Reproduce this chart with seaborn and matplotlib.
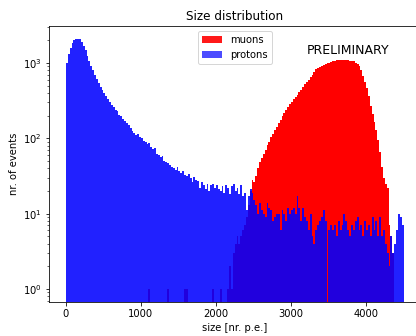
import numpy as np
import pandas as pd
import matplotlib
matplotlib.use("Agg")
import matplotlib.pyplot as plt
from matplotlib.patches import Patch
import seaborn as sns

# ---- data (bin width 25 p.e., bins from 0 to 4500) ----
bin_width = 25
bin_lo, bin_hi = 0, 4500

proton_counts = [
    1000, 1300, 1600, 1850, 2020, 2080, 2100, 2060, 1900, 1700,
    1480, 1250, 1050, 900, 800, 700, 610, 540, 480, 440,
    400, 360, 330, 300, 278, 262, 240, 228, 205, 198,
    180, 168, 158, 150, 135, 126, 118, 110, 114, 105,
    100, 92, 90, 84, 86, 76, 72, 75, 62, 60,
    56, 58, 50, 48, 47, 44, 42, 40, 38, 42,
    37, 35, 37, 33, 32, 34, 30, 26, 31, 28,
    27, 22, 26, 24, 21, 25, 20, 24, 25, 22,
    24, 21, 20, 23, 19, 24, 22, 18, 23, 25,
    20, 22, 18, 24, 17, 19,
    11, 17, 21, 19, 15, 13, 10, 14, 11, 10,
    9, 14, 12, 11, 8, 9, 10, 10, 6, 11,
    10, 8, 12, 10, 11, 12, 10, 17, 12, 8,
    12, 9, 8, 6, 10, 5, 4, 6, 7, 8,
    9, 11, 8, 0, 6, 7, 6, 7, 5, 8,
    6, 7, 10, 8, 6, 5, 7, 6, 8, 9,
    6, 7, 5, 8, 6, 7, 5, 9, 6, 8,
    5, 9, 5, 6, 4, 3, 2, 5, 3, 4,
    6, 10, 9, 7,
]

muon_start = 2150
muon_counts = [
    1, 2, 1, 3, 4, 5, 4, 5, 6, 7,
    9, 13, 20, 28, 26, 32, 40, 48, 55, 62,
    70, 82, 90, 105, 115, 128, 140, 160, 175, 200,
    220, 240, 262, 285, 305, 330, 350, 375, 410, 440,
    480, 520, 560, 600, 650, 700, 760, 820, 860, 880,
    900, 930, 960, 990, 1010, 1030, 1050, 1070, 1090, 1100,
    1095, 1090, 1085, 1090, 1080, 1070, 1060, 1050, 1010, 960,
    900, 800, 680, 560, 470, 360, 270, 210, 165, 130,
    95, 65, 42, 30, 25, 22, 7, 5, 3,
]
# isolated single muon events at low size (bin left edges)
muon_single_bins = [1100, 1350, 1575, 1600, 1950, 2050]

# ---- build tables ----
edges = [float(e) for e in np.arange(bin_lo, bin_hi + bin_width, bin_width)]
centers = np.array(edges[:-1]) + bin_width / 2
assert len(proton_counts) == len(centers)

muon_full = np.zeros(len(centers))
i0 = (muon_start - bin_lo) // bin_width
muon_full[i0:i0 + len(muon_counts)] = muon_counts
for b in muon_single_bins:
    muon_full[(b - bin_lo) // bin_width] = 1

df_mu = pd.DataFrame({"size": centers, "n": muon_full})
df_pr = pd.DataFrame({"size": centers, "n": np.array(proton_counts, float)})

# ---- figure ----
W, H, DPI = 416, 336, 72
fig = plt.figure(figsize=(W / DPI, H / DPI), dpi=DPI)
ax = fig.add_axes([49 / W, 34 / H, 371.4 / W, 276 / H])

sns.histplot(data=df_mu, x="size", weights="n", bins=edges, ax=ax,
             color="red", alpha=1.0, linewidth=0, edgecolor="none")
sns.histplot(data=df_pr, x="size", weights="n", bins=edges, ax=ax,
             color="blue", alpha=0.87, linewidth=0, edgecolor="none")

ax.set_yscale("log")
ax.set_ylim(0.67, 3100)
ax.set_xlim(-225, 4725)
ax.set_xticks([0, 1000, 2000, 3000, 4000])

ax.set_title("Size distribution", fontsize=12)
ax.set_xlabel("size [nr. p.e.]", fontsize=10)
ax.set_ylabel("nr. of events", fontsize=10)

handles = [Patch(facecolor="red", alpha=0.9, label="muons"),
           Patch(facecolor="blue", alpha=0.7, label="protons")]
ax.legend(handles=handles, loc="upper center", fontsize=10)

ax.text(0.804, 0.91, "PRELIMINARY", transform=ax.transAxes,
        ha="center", va="center", fontsize=12.5)

fig.savefig("out.png", dpi=DPI)
